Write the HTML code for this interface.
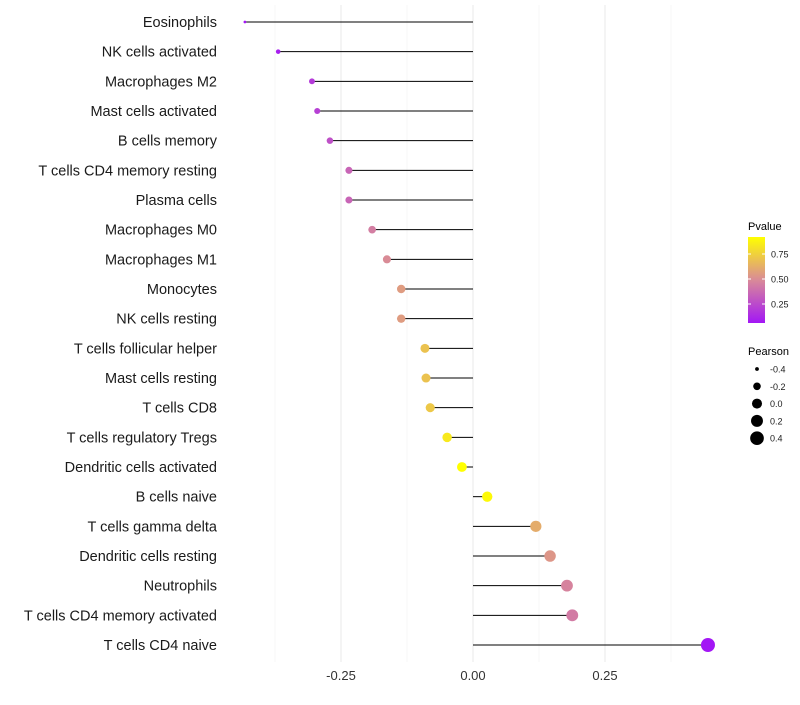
<!DOCTYPE html>
<html><head><meta charset="utf-8"><style>
body{margin:0;background:#fff;font-family:"Liberation Sans",sans-serif}
</style></head><body>
<svg id="c" width="800" height="700" xmlns="http://www.w3.org/2000/svg">
<defs><linearGradient id="g" x1="0" y1="1" x2="0" y2="0">
<stop offset="0" stop-color="#a317f5"/><stop offset="0.5" stop-color="#d98a98"/><stop offset="1" stop-color="#ffff00"/>
</linearGradient></defs>
</svg>
<script>
const cells=["Eosinophils","NK cells activated","Macrophages M2","Mast cells activated","B cells memory","T cells CD4 memory resting","Plasma cells","Macrophages M0","Macrophages M1","Monocytes","NK cells resting","T cells follicular helper","Mast cells resting","T cells CD8","T cells regulatory  Tregs ","Dendritic cells activated","B cells naive","T cells gamma delta","Dendritic cells resting","Neutrophils","T cells CD4 memory activated","T cells CD4 naive"];
const pearson=[-0.432,-0.369,-0.305,-0.295,-0.271,-0.235,-0.235,-0.191,-0.163,-0.136,-0.136,-0.091,-0.089,-0.081,-0.049,-0.021,0.027,0.119,0.146,0.178,0.188,0.445];
const pvalue=[0.04,0.1,0.2,0.22,0.28,0.36,0.36,0.45,0.5,0.56,0.56,0.7,0.7,0.72,0.84,0.92,0.9,0.62,0.54,0.47,0.44,0.04];
const xTicks=[-0.25,0,0.25];
const xTickLabels=["-0.25","0.00","0.25"];
const pTicks=[0.25,0.5,0.75];
const sizeTicks=[-0.4,-0.2,0,0.2,0.4];
const svg=document.getElementById('c');const NS="http://www.w3.org/2000/svg";
function mk(t,a,txt){const e=document.createElementNS(NS,t);for(const k in a)e.setAttribute(k,a[k]);if(txt!==undefined)e.textContent=txt;svg.appendChild(e);return e;}
const x=v=>473+v*528;
const y=i=>22+i*29.667;
const r=v=>Math.sqrt(Math.max(1.5,2+53.7*(v+0.43)));
function lerp(a,b,t){return a.map((c,i)=>Math.round(c+(b[i]-c)*t));}
function col(p){const lo=[163,23,245],mid=[217,138,152],hi=[255,255,0];const t=Math.max(0,Math.min(1,(p-0.07)/0.85));const c=t<0.5?lerp(lo,mid,t*2):lerp(mid,hi,(t-0.5)*2);return `rgb(${c})`;}
[-0.375,-0.125,0.125,0.375].forEach(v=>{const l=mk('line',{x1:x(v),x2:x(v),y1:5,y2:662,stroke:'#f2f2f2','stroke-width':0.6});
});
xTicks.forEach((v,i)=>{const l=mk('line',{x1:x(v),x2:x(v),y1:5,y2:662,stroke:'#ebebeb','stroke-width':1.1});

const t=mk('text',{x:x(v),y:680,'text-anchor':'middle','font-size':13,fill:'#333'},xTickLabels[i]);
});
cells.forEach((c,i)=>{
const t=mk('text',{x:217,y:y(i)+5,'text-anchor':'end','font-size':14.5,fill:'#1a1a1a'},c);

const l=mk('line',{x1:x(0),x2:x(pearson[i]),y1:y(i),y2:y(i),stroke:'#000','stroke-width':1});

const d=mk('circle',{cx:x(pearson[i]),cy:y(i),r:r(pearson[i]),fill:col(pvalue[i])});

});
let t=mk('text',{x:748,y:230,'font-size':11},'Pvalue');
let b=mk('rect',{x:748,y:237,width:17,height:86,fill:'url(#g)'});
const py=p=>329-p*100;
pTicks.forEach(p=>{const tk=mk('line',{x1:748,x2:751,y1:py(p),y2:py(p),stroke:'#fff'});
const tk2=mk('line',{x1:762,x2:765,y1:py(p),y2:py(p),stroke:'#fff'});
const l=mk('text',{x:771,y:py(p)+3.5,'font-size':9,fill:'#1a1a1a'},p.toFixed(2));});
t=mk('text',{x:748,y:355,'font-size':11},'Pearson');
sizeTicks.forEach((s,i)=>{const cy=369+i*17.3;
const c=mk('circle',{cx:757,cy:cy,r:r(s),fill:'#000'});
const l=mk('text',{x:770,y:cy+3.5,'font-size':9,fill:'#1a1a1a'},s.toFixed(1));});
</script>
</body></html>
